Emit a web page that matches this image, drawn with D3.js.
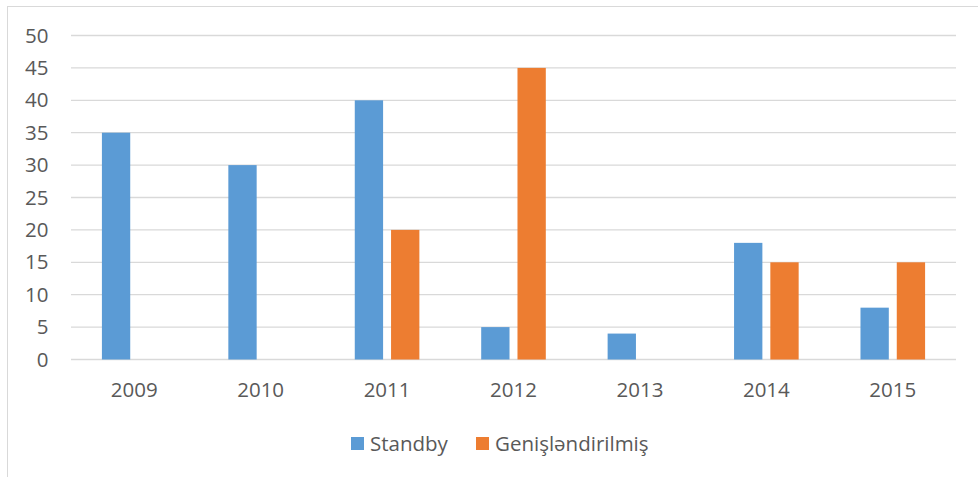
<!DOCTYPE html>
<html lang="az">
<head>
<meta charset="utf-8">
<script src="https://d3js.org/d3.v7.min.js"></script>
<style>
  body { margin: 0; background: #fff; }
  text { font-family: "Open Sans", "Noto Sans", sans-serif; fill: #595959; }
</style>
</head>
<body>
<script>
// chart data
var years = ["2009", "2010", "2011", "2012", "2013", "2014", "2015"];
var standby = [35, 30, 40, 5, 4, 18, 8];
var genislendirilmis = [0, 0, 20, 45, 0, 15, 15];
var seriesNames = ["Standby", "Genişləndirilmiş"];
var yTicks = [0, 5, 10, 15, 20, 25, 30, 35, 40, 45, 50];

var w = 978, h = 477;
var colors = ["#5B9BD5", "#ED7D31"];
var fs = 20.5;

var svg = d3.select("body").append("svg")
  .attr("width", w).attr("height", h);

// outer chart border
svg.append("rect")
  .attr("x", 7.5).attr("y", 6.5)
  .attr("width", 1000).attr("height", 500)
  .attr("fill", "none").attr("stroke", "#D9D9D9");

var x = d3.scaleBand().domain(years).range([71, 956]);
var y = d3.scaleLinear().domain([0, 50]).range([359.5, 35.5]);

// gridlines
svg.append("g").selectAll("line")
  .data(yTicks).enter().append("line")
  .attr("x1", 71).attr("x2", 956)
  .attr("y1", function(d) { return y(d); })
  .attr("y2", function(d) { return y(d); })
  .attr("stroke", "#D9D9D9").attr("stroke-width", 1.3);

// y labels
svg.append("g").selectAll("text")
  .data(yTicks).enter().append("text")
  .attr("x", 48.5)
  .attr("y", function(d) { return y(d); })
  .attr("dy", "0.35em")
  .attr("text-anchor", "end")
  .attr("font-size", fs)
  .text(function(d) { return d; });

// x labels
svg.append("g").selectAll("text")
  .data(years).enter().append("text")
  .attr("x", function(d) { return x(d) + x.bandwidth() / 2; })
  .attr("y", 390)
  .attr("dy", "0.35em")
  .attr("text-anchor", "middle")
  .attr("font-size", fs)
  .text(function(d) { return d; });

var barW = x.bandwidth() * 0.224;
var gap = x.bandwidth() * 0.063;
var series = [standby, genislendirilmis];

series.forEach(function(vals, s) {
  var pts = vals.map(function(v, i) { return { year: years[i], value: v }; })
    .filter(function(d) { return d.value > 0; });
  svg.append("g").selectAll("rect")
    .data(pts).enter().append("rect")
    .attr("x", function(d) {
      var c = x(d.year) + x.bandwidth() / 2;
      return s === 0 ? c - gap / 2 - barW : c + gap / 2;
    })
    .attr("y", function(d) { return y(d.value); })
    .attr("width", barW)
    .attr("height", function(d) { return y(0) - y(d.value); })
    .attr("fill", colors[s]);
});

// legend
var legendX = [351, 476];
var lg = svg.append("g").selectAll("g")
  .data(seriesNames).enter().append("g")
  .attr("transform", function(d, i) { return "translate(" + legendX[i] + ",437)"; });
lg.append("rect")
  .attr("width", 13).attr("height", 13)
  .attr("fill", function(d, i) { return colors[i]; });
lg.append("text")
  .attr("x", 19).attr("y", 7)
  .attr("dy", "0.35em")
  .attr("font-size", fs)
  .text(function(d) { return d; });
</script>
</body>
</html>
